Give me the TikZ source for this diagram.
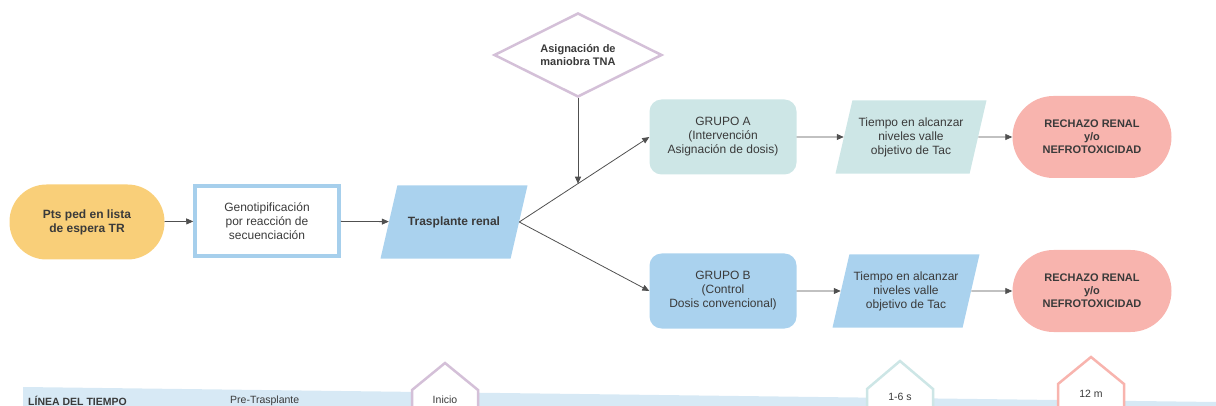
\documentclass[tikz,border=0pt]{standalone}
\usepackage{fontspec}
\setmainfont{Liberation Sans}
\usepackage{tikz}
\usetikzlibrary{positioning}
\usetikzlibrary{shapes.geometric}
\usetikzlibrary{arrows.meta}

\definecolor{naranja}{HTML}{F9CF79}
\definecolor{azul}{HTML}{AAD2EE}
\definecolor{azulborde}{HTML}{A6CFEC}
\definecolor{turquesa}{HTML}{CDE6E6}
\definecolor{salmon}{HTML}{F8B4AE}
\definecolor{lila}{HTML}{D4C0D8}
\definecolor{banda}{HTML}{D7E9F5}
\definecolor{texto}{HTML}{3A3A3A}
\definecolor{gris}{HTML}{505050}

\begin{document}
\begin{tikzpicture}[x=1pt, y=-1pt]
		\tikzstyle{base} = [align=center, text=texto, font=\fontsize{12}{14}\selectfont, inner sep=2pt]
		\tikzstyle{capsula} = [base, rounded corners=37pt, minimum width=155pt, minimum height=75pt]
		\tikzstyle{caja} = [base, rounded corners=12pt, minimum width=147pt, minimum height=75pt]
		\tikzstyle{paralelo} = [base, trapezium, trapezium left angle=77, trapezium right angle=103, trapezium stretches body=true, inner ysep=17pt]
		\tikzstyle{flecha} = [draw=gris, line width=0.8pt, -{Triangle[length=7pt, width=6pt]}]
		\tikzstyle{hito} = [line width=2.5pt, fill=white, line join=miter]
		\tikzstyle{tiempo} = [text=texto, font=\fontsize{10.5}{12}\selectfont, inner sep=0pt]

		\useasboundingbox (0, 0) rectangle (1216, 406);
		\clip (0, 0) rectangle (1216, 406);

	% Nodos
		\node[capsula, fill=naranja, font=\bfseries\fontsize{12}{14}\selectfont] (pts) at (87, 222) {Pts ped en lista\\de espera TR};
		\node[base, draw=azulborde, line width=3.5pt, minimum width=144pt, minimum height=70pt] (geno) at (267, 221) {Genotipificación\\por reacción de\\secuenciación};
		\node[paralelo, fill=azul, minimum width=147pt, inner ysep=31pt, font=\bfseries\fontsize{12}{14}\selectfont] (tras) at (454, 222) {Trasplante renal};
		\node[base, diamond, draw=lila, line width=2.5pt, fill=white, aspect=2, inner sep=0pt, minimum width=168pt, minimum height=84pt, font=\bfseries\fontsize{11}{13}\selectfont] (asig) at (578, 55) {Asignación de\\maniobra TNA};

		\node[caja, fill=turquesa] (grupoA) at (723, 137) {GRUPO A\\(Intervención\\Asignación de dosis)};
		\node[paralelo, fill=turquesa, minimum width=151pt] (tiempoA) at (911, 137) {Tiempo en alcanzar\\niveles valle\\objetivo de Tac};
		\node[capsula, fill=salmon, minimum width=159pt, minimum height=82pt, rounded corners=41pt, font=\bfseries\fontsize{11}{13}\selectfont] (rechazoA) at (1092, 137) {RECHAZO RENAL\\y/o\\NEFROTOXICIDAD};

		\node[caja, fill=azul] (grupoB) at (723, 291) {GRUPO B\\(Control\\Dosis convencional)};
		\node[paralelo, fill=azul, minimum width=147pt] (tiempoB) at (906, 291) {Tiempo en alcanzar\\niveles valle\\objetivo de Tac};
		\node[capsula, fill=salmon, minimum width=159pt, minimum height=82pt, rounded corners=41pt, font=\bfseries\fontsize{11}{13}\selectfont] (rechazoB) at (1092, 291) {RECHAZO RENAL\\y/o\\NEFROTOXICIDAD};

	% Enlaces
		\draw[flecha] (pts) -- (geno);
		\draw[flecha] (geno) -- (tras);
		\draw[flecha] (tras.east) -- (grupoA.west) coordinate[pos=0.45] (cruce);
		\draw[flecha] (tras.east) -- (grupoB.west);
		\draw[flecha] (asig.south) -- (asig.south |- cruce);
		\draw[flecha] (grupoA) -- (tiempoA);
		\draw[flecha] (tiempoA) -- (rechazoA);
		\draw[flecha] (grupoB) -- (tiempoB);
		\draw[flecha] (tiempoB) -- (rechazoB);

	% Linea del tiempo
		\fill[banda] (23, 387) -- (1216, 402) -- (1216, 420) -- (23, 420) -- cycle;
		\node[tiempo, anchor=west, font=\bfseries\fontsize{10.5}{12}\selectfont] (titulo) at (28, 401) {LÍNEA DEL TIEMPO};
		\node[tiempo, anchor=west] (pre) at (230, 401) {Pre-Trasplante};

		\draw[hito, draw=lila] (412, 420) -- (412, 390) -- (445, 363) -- (478, 390) -- (478, 420);
		\node[tiempo] (inicio) at (445, 400) {Inicio};
		\draw[hito, draw=turquesa] (867, 420) -- (867, 389) -- (900, 361) -- (933, 389) -- (933, 420);
		\node[tiempo] (semanas) at (900, 397) {1-6 s};
		\draw[hito, draw=salmon] (1058, 420) -- (1058, 384) -- (1091, 357) -- (1124, 384) -- (1124, 420);
		\node[tiempo] (meses) at (1091, 394) {12 m};

	\end{tikzpicture}
\end{document}
